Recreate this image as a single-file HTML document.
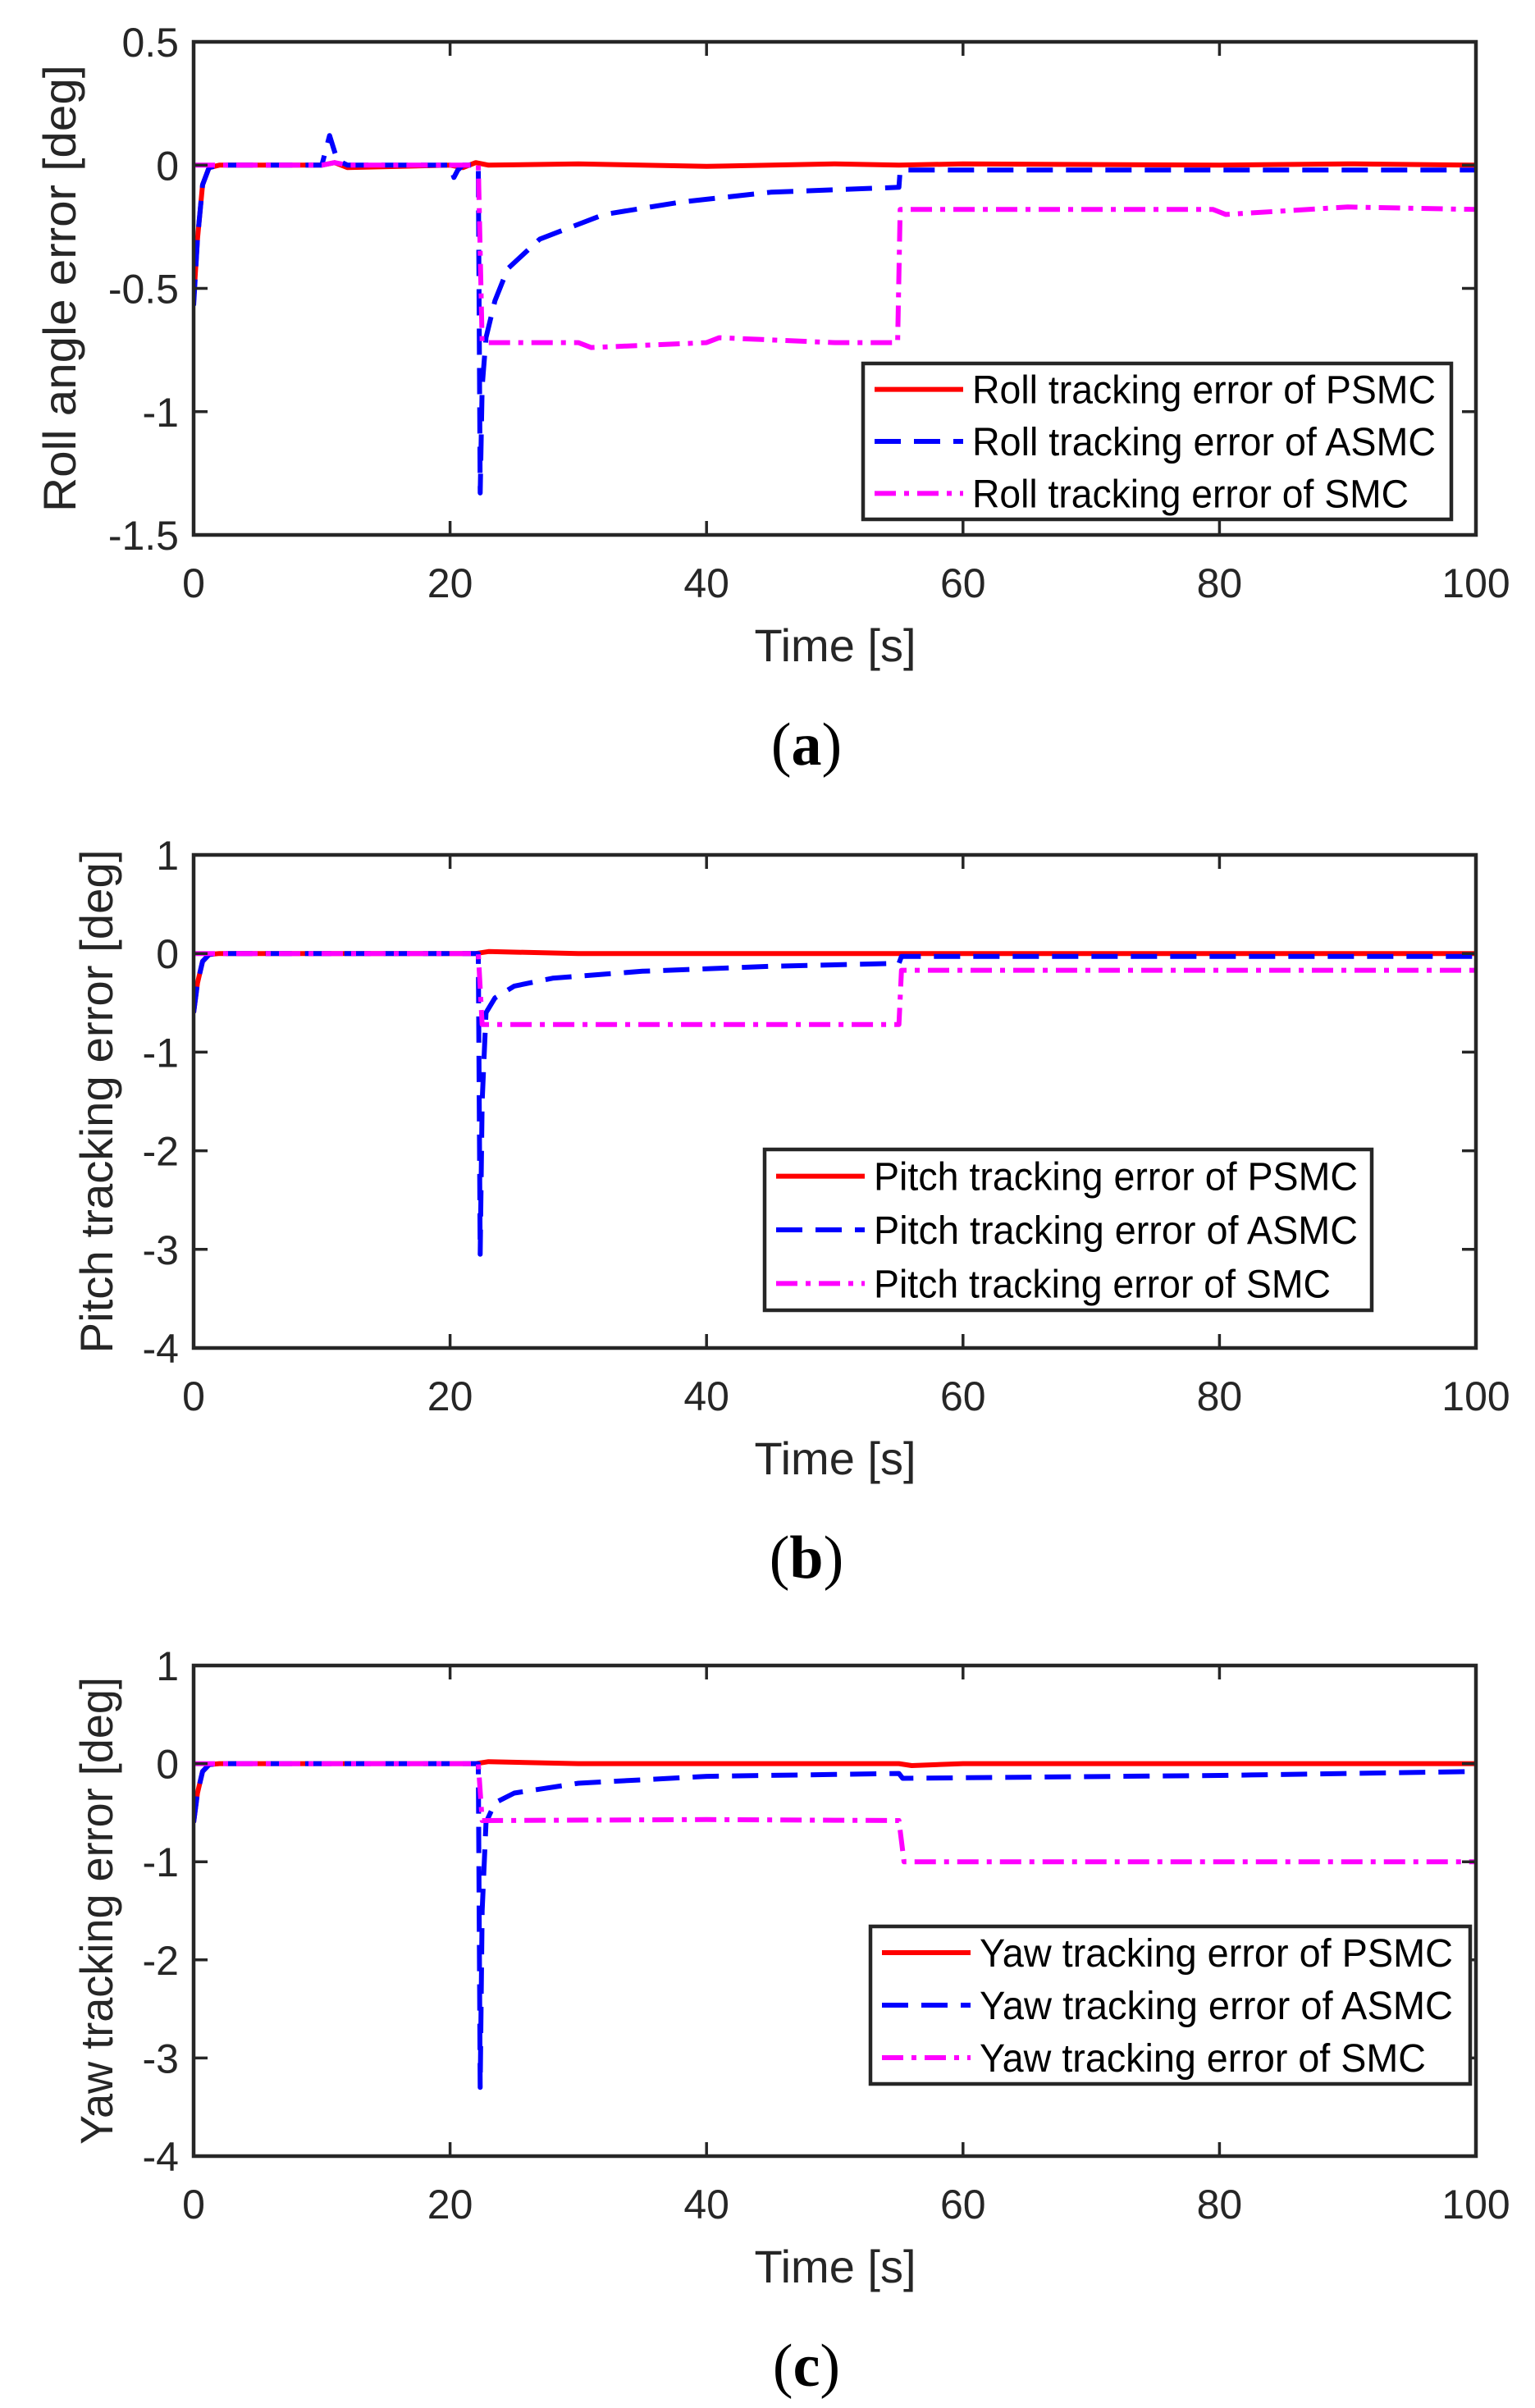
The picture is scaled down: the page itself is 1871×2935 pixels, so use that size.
<!DOCTYPE html>
<html><head><meta charset="utf-8"><style>
html,body{margin:0;padding:0;background:#fff;}
svg{display:block;font-family:"Liberation Sans",Arial,sans-serif;}
</style></head><body>
<svg id="fig" width="1871" height="2935" viewBox="0 0 1871 2935" xmlns="http://www.w3.org/2000/svg"></svg>
<script>
// ---- data ----
const xTicks = [0, 20, 40, 60, 80, 100];
const aYTicks = [0.5, 0, -0.5, -1, -1.5];
const bYTicks = [1, 0, -1, -2, -3, -4];
const cYTicks = [1, 0, -1, -2, -3, -4];

const aPsmcT = [0, 0.3, 0.7, 1.2, 2, 10, 11, 12, 20, 21, 22, 23, 30, 40, 50, 55, 60, 80, 90, 100];
const aPsmcV = [-0.55, -0.3, -0.08, -0.01, 0, 0, 0.01, -0.01, 0, -0.01, 0.01, 0, 0.005, -0.005, 0.005, 0, 0.005, 0, 0.005, 0];
const aAsmcT = [0, 0.3, 0.7, 1.2, 2, 10, 10.6, 11.2, 12, 20, 20.3, 20.6, 21, 22.2, 22.35, 22.5, 22.8, 23.5, 24.5, 27, 32, 38, 45, 55, 55.1, 80, 100];
const aAsmcV = [-0.57, -0.3, -0.08, -0.01, 0, 0, 0.12, 0.02, 0, 0, -0.05, -0.02, 0, 0, -1.33, -0.9, -0.7, -0.55, -0.42, -0.3, -0.2, -0.15, -0.11, -0.09, -0.02, -0.02, -0.02];
const aSmcT = [0, 0.3, 1, 10, 11, 12, 20, 22.2, 22.5, 23, 30, 31, 40, 41, 50, 54.9, 55.1, 60, 79.5, 80.5, 90, 100];
const aSmcV = [0, 0, 0, 0, 0.01, 0, 0, 0, -0.72, -0.72, -0.72, -0.74, -0.72, -0.7, -0.72, -0.72, -0.18, -0.18, -0.18, -0.2, -0.17, -0.18];

const bPsmcT = [0, 0.3, 0.7, 1.2, 2, 22, 23, 30, 60, 100];
const bPsmcV = [-0.6, -0.3, -0.08, -0.01, 0, 0, 0.02, 0, 0, 0];
const bAsmcT = [0, 0.3, 0.7, 1.2, 2, 22.2, 22.35, 22.5, 22.8, 23.5, 25, 28, 35, 45, 55, 55.2, 100];
const bAsmcV = [-0.6, -0.3, -0.08, -0.01, 0, 0, -3.05, -1.5, -0.6, -0.45, -0.33, -0.25, -0.18, -0.13, -0.1, -0.03, -0.03];
const bSmcT = [0, 1, 22.2, 22.5, 40, 55, 55.2, 100];
const bSmcV = [0, 0, 0, -0.72, -0.72, -0.72, -0.17, -0.17];

const cPsmcT = [0, 0.3, 0.7, 1.2, 2, 22, 23, 30, 55, 56, 60, 100];
const cPsmcV = [-0.6, -0.3, -0.08, -0.01, 0, 0, 0.02, 0, 0, -0.02, 0, 0];
const cAsmcT = [0, 0.3, 0.7, 1.2, 2, 22.2, 22.35, 22.5, 22.8, 23.5, 25, 30, 40, 55, 55.3, 80, 100];
const cAsmcV = [-0.6, -0.3, -0.08, -0.01, 0, 0, -3.3, -1.5, -0.6, -0.4, -0.3, -0.2, -0.13, -0.1, -0.15, -0.12, -0.08];
const cSmcT = [0, 1, 22.2, 22.5, 40, 55, 55.4, 100];
const cSmcV = [0, 0, 0, -0.58, -0.57, -0.58, -1.0, -1.0];

const panels = [
  {id:'a', top:51, bot:652, ymax:0.5, ymin:-1.5, ticks:aYTicks, ylabel:'Roll angle error [deg]', ylabelX:92, ylabelLen:545,
   series:[[aPsmcT,aPsmcV],[aAsmcT,aAsmcV],[aSmcT,aSmcV]], names:['Roll tracking error of PSMC','Roll tracking error of ASMC','Roll tracking error of SMC'],
   leg:[1052,443,1769,633], legTextLen:[565,565,532]},
  {id:'b', top:1042, bot:1643, ymax:1, ymin:-4, ticks:bYTicks, ylabel:'Pitch tracking error [deg]', ylabelX:137, ylabelLen:614,
   series:[[bPsmcT,bPsmcV],[bAsmcT,bAsmcV],[bSmcT,bSmcV]], names:['Pitch tracking error of PSMC','Pitch tracking error of ASMC','Pitch tracking error of SMC'],
   leg:[932,1401,1672,1597], legTextLen:[590,590,557]},
  {id:'c', top:2030, bot:2628, ymax:1, ymin:-4, ticks:cYTicks, ylabel:'Yaw tracking error [deg]', ylabelX:137, ylabelLen:570,
   series:[[cPsmcT,cPsmcV],[cAsmcT,cAsmcV],[cSmcT,cSmcV]], names:['Yaw tracking error of PSMC','Yaw tracking error of ASMC','Yaw tracking error of SMC'],
   leg:[1061,2348,1792,2540], legTextLen:[577,577,544]}
];
const colors = ['#ff0000','#0000ff','#ff00ff'];
const dashes = ['none','32 16','26 10 6 10'];
const seriesNames = ['psmc','asmc','smc'];

const X0 = 236, X1 = 1799;
const NS = 'http://www.w3.org/2000/svg';
const svg = document.getElementById('fig');
function mk(tag, attrs, parent){
  const e = document.createElementNS(NS, tag);
  for (const k in attrs) e.setAttribute(k, attrs[k]);
  (parent||svg).appendChild(e);
  return e;
}
function xs(t){ return X0 + (t/100)*(X1-X0); }

panels.forEach(p => {
  const ys = v => p.top + (p.ymax - v)/(p.ymax - p.ymin)*(p.bot - p.top);
  const g = mk('g', {});
  
  
  const cp = mk('clipPath', {id:'clip'+p.id}, g);
  mk('rect', {x:X0, y:p.top, width:X1-X0, height:p.bot-p.top}, cp);
  p.series.forEach((s, i) => {
    const [T, V] = s;
    const d = T.map((t, k) => (k ? 'L' : 'M') + xs(t).toFixed(1) + ' ' + ys(V[k]).toFixed(1)).join(' ');
    const path = mk('path', {d:d, fill:'none', stroke:colors[i], 'stroke-width':6, 'stroke-dasharray':dashes[i], 'clip-path':'url(#clip'+p.id+')', 'stroke-linejoin':'round'}, g);
    
    
  });
  const box = mk('rect', {x:X0, y:p.top, width:X1-X0, height:p.bot-p.top, fill:'none', stroke:'#262626', 'stroke-width':4.5}, g);
  
  
  xTicks.forEach(t => {
    const x = xs(t);
    mk('line', {x1:x, x2:x, y1:p.bot, y2:p.bot-17, stroke:'#262626', 'stroke-width':3.5}, g);
    mk('line', {x1:x, x2:x, y1:p.top, y2:p.top+17, stroke:'#262626', 'stroke-width':3.5}, g);
    const tx = mk('text', {x:x, y:p.bot+76, 'font-size':50, 'text-anchor':'middle', fill:'#262626'}, g);
    tx.textContent = t;
    
    
  });
  p.ticks.forEach(v => {
    const y = ys(v);
    mk('line', {x1:X0, x2:X0+17, y1:y, y2:y, stroke:'#262626', 'stroke-width':3.5}, g);
    mk('line', {x1:X1, x2:X1-17, y1:y, y2:y, stroke:'#262626', 'stroke-width':3.5}, g);
    const tx = mk('text', {x:X0-18, y:y+18, 'font-size':50, 'text-anchor':'end', fill:'#262626'}, g);
    tx.textContent = v;
    
    
  });
  const xl = mk('text', {x:1018, y:p.bot+154, 'font-size':56, 'text-anchor':'middle', fill:'#262626'}, g);
  xl.textContent = 'Time [s]';
  
  
  const yc = (p.top+p.bot)/2;
  const yl = mk('text', {x:0, y:0, 'font-size':56, 'text-anchor':'middle', fill:'#262626', transform:'translate('+(p.ylabelX)+','+yc+') rotate(-90)', textLength:p.ylabelLen, lengthAdjust:'spacingAndGlyphs'}, g);
  yl.textContent = p.ylabel;
  
  
  const cap = mk('text', {x:983, y:p.bot+280, 'font-size':74, 'text-anchor':'middle', fill:'#000', 'font-family':'"Liberation Serif",serif'}, g);
  cap.innerHTML = '(<tspan font-weight="bold">' + p.id + '</tspan>)';
  
  
  const [lx0, ly0, lx1, ly1] = p.leg;
  const lg = mk('g', {}, g);
  
  
  mk('rect', {x:lx0, y:ly0, width:lx1-lx0, height:ly1-ly0, fill:'#fff', stroke:'#262626', 'stroke-width':4.5}, lg);
  const rowH = (ly1-ly0)/3;
  p.names.forEach((n, i) => {
    const cy = ly0 + rowH*(i+0.5);
    const e = mk('g', {}, lg);
    
    
    mk('line', {x1:lx0+14, x2:lx0+122, y1:cy, y2:cy, stroke:colors[i], 'stroke-width':6, 'stroke-dasharray':dashes[i]}, e);
    const t = mk('text', {x:lx0+133, y:cy+17, 'font-size':48, fill:'#000', textLength:p.legTextLen[i], lengthAdjust:'spacingAndGlyphs'}, e);
    t.textContent = n;
  });
});
</script>
</body></html>
